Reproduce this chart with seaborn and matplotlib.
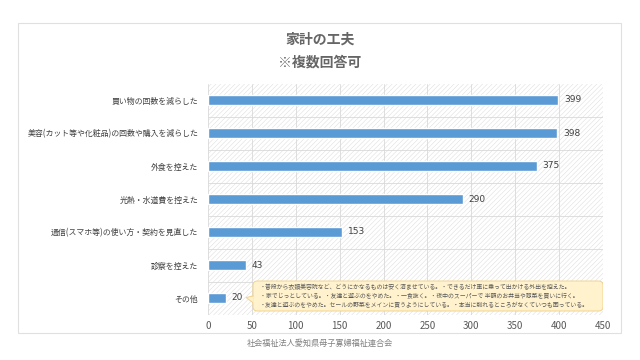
import matplotlib
matplotlib.use("Agg")
import matplotlib.pyplot as plt
import seaborn as sns
import pandas as pd
from matplotlib.patches import Rectangle, FancyBboxPatch, Polygon

categories = [
    "買い物の回数を減らした",
    "美容(カット等や化粧品)の回数や購入を減らした",
    "外食を控えた",
    "光熱・水道費を控えた",
    "通信(スマホ等)の使い方・契約を見直した",
    "診察を控えた",
    "その他",
]
values = [399, 398, 375, 290, 153, 43, 20]
xticks = [0, 50, 100, 150, 200, 250, 300, 350, 400, 450]
title1 = "家計の工夫"
title2 = "※複数回答可"
footer = "社会福祉法人愛知県母子寡婦福祉連合会"
note_lines = [
    "・普段から衣類美容院など、どうにかなるものは安く済ませている。・できるだけ車に乗って出かける外出を控えた。",
    "・家でじっとしている。・友達と遊ぶのをやめた。・一食抜く。・夜中のスーパーで 半額のお弁当や惣菜を買いに行く。",
    "・友達と遊ぶのをやめた。セールの野菜をメインに買うようにしている。・本当に削れるところがなくていつも困っている。",
]

sns.set_theme(style="white")
plt.rcParams["font.family"] = ["Noto Sans CJK JP", "DejaVu Sans"]
plt.rcParams["hatch.linewidth"] = 0.4

df = pd.DataFrame({"cat": categories, "val": values})

fig = plt.figure(figsize=(6.4, 3.6), dpi=100)
ax = fig.add_axes([208 / 640, 1 - 314.5 / 360, (603 - 208) / 640, (314.5 - 83.5) / 360])

# hatched background
ax.add_patch(Rectangle((0, 0), 1, 1, transform=ax.transAxes, facecolor="white",
                       edgecolor="#e0e0e0", hatch="///////", lw=0, zorder=0))

sns.barplot(data=df, x="val", y="cat", orient="h", color="#5b9bd5",
            width=0.28, ax=ax, zorder=3, saturation=1)

ax.set_xlim(0, 450)
ax.set_ylim(len(categories) - 0.5, -0.5)
ax.set_xticks(xticks)
ax.set_xticklabels([str(t) for t in xticks], fontsize=7, color="#595959")
ax.set_yticks(range(len(categories)))
ax.set_yticklabels(categories, fontsize=5.7, color="#404040")
ax.set_yticks([i + 0.5 for i in range(len(categories) - 1)], minor=True)
ax.tick_params(axis="both", which="both", length=0)
ax.tick_params(axis="y", pad=7)
ax.tick_params(axis="x", pad=5)
ax.set_xlabel("")
ax.set_ylabel("")
ax.grid(True, axis="x", color="#d9d9d9", lw=0.6, zorder=1)
ax.grid(True, axis="y", which="minor", color="#d9d9d9", lw=0.6, zorder=1)
ax.set_axisbelow(True)
for s in ax.spines.values():
    s.set_visible(False)

for c in ax.containers:
    ax.bar_label(c, padding=4, fontsize=6.5, color="#404040", family=["DejaVu Sans"])

# callout box
xpp = 450 / 395.0
ypp = 1 / 33.0
bx0, bx1 = (253 - 208) * xpp, (603 - 208) * xpp
by_top, by_bot = 6 + (281 - 298) * ypp, 6 + (311 - 298) * ypp
box = FancyBboxPatch((bx0, by_top), bx1 - bx0, by_bot - by_top,
                     boxstyle="round,pad=0,rounding_size=5",
                     mutation_aspect=ypp / xpp,
                     facecolor="#fff2cc", edgecolor="#f2d38f", lw=0.7, zorder=5)
ax.add_patch(box)
ptr = Polygon([(bx0 + 0.5, 6 - 2 * ypp), ((246 - 208) * xpp, 6 - 0.5 * ypp),
               (bx0 + 0.5, 6 + 5 * ypp)], closed=True,
              facecolor="#fff2cc", edgecolor="#f2d38f", lw=0.7, zorder=6)
ax.add_patch(ptr)
ax.plot([bx0 + 0.6, bx0 + 0.6], [6 - 1.5 * ypp, 6 + 4.5 * ypp], color="#fff2cc", lw=1.2, zorder=7)
for i, line in enumerate(note_lines):
    ax.text((260 - 208) * xpp, 6 + (287 - 298 + i * 9) * ypp, line, fontsize=4.25,
            color="#595959", va="center", ha="left", zorder=8)

# frame, titles, footer
fig.add_artist(Rectangle((18 / 640, 1 - 333 / 360), (621 - 18) / 640, (333 - 23) / 360,
                         transform=fig.transFigure, fill=False, edgecolor="#e0e0e0", lw=0.8))
fig.text(0.5, 1 - 40 / 360, title1, ha="center", va="center", fontsize=10,
         fontweight="bold", color="#666666")
fig.text(0.5, 1 - 62 / 360, title2, ha="center", va="center", fontsize=10,
         fontweight="bold", color="#666666")
fig.text(320 / 640, 1 - 343 / 360, footer, ha="center", va="center", fontsize=5.9,
         color="#808080")

fig.savefig("out.png", dpi=100)
